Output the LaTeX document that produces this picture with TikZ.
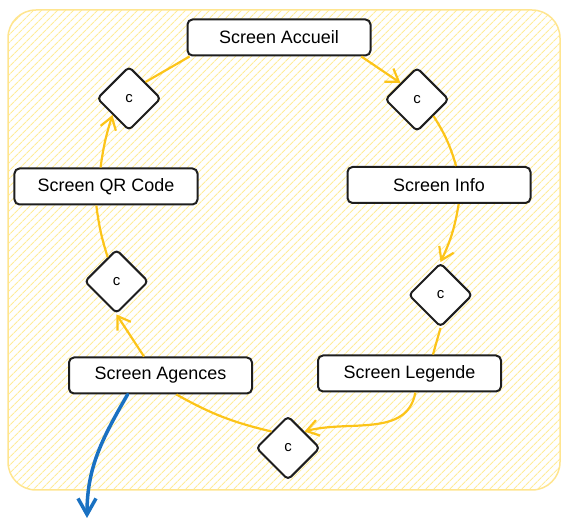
\documentclass[tikz,border=0pt]{standalone}
\usepackage{fontspec}
\setmainfont{Liberation Sans}
\usetikzlibrary{shapes.geometric,arrows.meta,patterns.meta}

\definecolor{hatchcol}{HTML}{FFEC99}
\definecolor{framecol}{HTML}{FFE58F}
\definecolor{linkcol}{HTML}{FCC419}
\definecolor{exitcol}{HTML}{1971C2}
\definecolor{inkcol}{HTML}{1E1E1E}

\tikzset{
  screen/.style={draw=inkcol, line width=2bp, rounded corners=5bp, fill=white,
    minimum width=183bp, minimum height=36bp, inner sep=0pt,
    font=\fontsize{18}{20}\selectfont},
  choix/.style={diamond, draw=inkcol, line width=2bp, rounded corners=4bp, fill=white,
    minimum width=64bp, minimum height=64bp, inner sep=0pt,
    font=\fontsize{15}{17}\selectfont},
  link/.style={draw=linkcol, line width=2.2bp},
  sortie/.style={draw=exitcol, line width=3.5bp, line cap=round,
    -{Straight Barb[length=16bp,width=18bp]}}
}

\begin{document}
\begin{tikzpicture}[>={Straight Barb[length=12bp,width=16bp]}, line join=round, x=1bp, y=1bp]
  \useasboundingbox (0,0) rectangle (570,524);
  % frame
  \draw[framecol, line width=1.5bp, rounded corners=28bp,
    pattern={Lines[angle=45,distance=6bp,line width=1.2bp]}, pattern color=hatchcol]
    (8,34) rectangle (560,514);
  %
  % Node: screens
  \node[screen] (accueil) at (279,486.5) {Screen Accueil};
  \node[screen] (qrcode) at (106,337.5) {Screen QR Code};
  \node[screen] (info) at (439,339) {Screen Info};
  \node[screen] (agences) at (160.5,148.5) {Screen Agences};
  \node[screen] (legende) at (409.5,150.5) {Screen Legende};
  % Node: choices
  \node[choix] (ch1) at (129,425.5) {c};
  \node[choix] (ch2) at (417,424.5) {c};
  \node[choix] (ch3) at (116.5,242.5) {c};
  \node[choix] (ch4) at (440.5,229) {c};
  \node[choix] (ch5) at (288,76) {c};
  \coordinate (out) at (87,6);
  %
  % Edges
  \draw[link,->] (accueil.-13) -- (ch2.north west);
  \draw[link] (ch2.south east) to[bend left=8] (info.48);
  \draw[link,->] (info.-44) to[bend left=8] (ch4.north);
  \draw[link] (ch4.south) -- (legende.39);
  \draw[link,->] (legende.-73) to[out=-100,in=15] (ch5.north east);
  \draw[link] (ch5.north west) to[bend left=8] (agences.-50);
  \draw[link,->] (agences.131) -- (ch3.south);
  \draw[link] (ch3.110) to[bend left=5] (qrcode.-117);
  \draw[link,->] (qrcode.106) to[bend left=5] (ch1.south west);
  \draw[link] (ch1.north east) -- (accueil.-168);
  % exit
  \draw[sortie] (agences.-150) to[out=-120,in=90] (out);
\end{tikzpicture}
\end{document}
